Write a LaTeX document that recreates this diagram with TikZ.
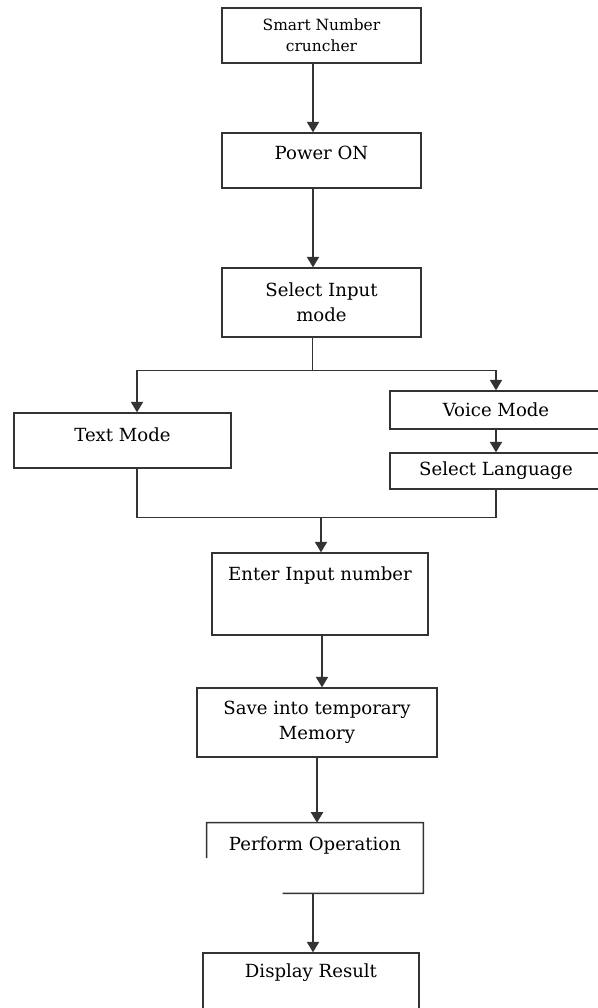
\documentclass[tikz,border=0pt]{standalone}
\usepackage{fontspec}
\setmainfont{DejaVu Serif}
\usetikzlibrary{arrows.meta,calc,positioning}

\begin{document}
\begin{tikzpicture}[x=0.02cm, y=-0.02cm, >={Triangle[width=7pt,length=6pt]},
    font=\fontsize{10.3}{14}\selectfont,
    box/.style={draw=black!80, line width=0.8pt, inner sep=0pt, align=center},
    link/.style={draw=black!80, line width=0.8pt}]
    \useasboundingbox (0,0) rectangle (598,1008);

    % main column
    \node[box, minimum width=3.98cm, minimum height=1.1cm, font=\fontsize{8.8}{12}\selectfont] (smart) at (321.5,35.5) {Smart Number\\cruncher};
    \node[box, minimum width=3.98cm, minimum height=1.1cm] (power) at (321.5,160.5) {};
    \node (powertxt) at ([yshift=-0.42cm]power.north) {Power ON};
    \node[box, minimum width=3.98cm, minimum height=1.38cm] (select) at (321.5,302.5) {Select Input\\mode};

    % the two input branches
    \node[box, minimum width=4.34cm, minimum height=1.1cm] (textm) at (122.5,440.5) {};
    \node (textmtxt) at ([yshift=-0.44cm]textm.north) {Text Mode};
    \node[box, minimum width=4.24cm, minimum height=0.76cm] (voice) at (496,410) {Voice Mode};
    \node[box, minimum width=4.24cm, minimum height=0.72cm] (lang) at (496,471) {Select Language};

    \node[box, minimum width=4.32cm, minimum height=1.64cm] (enter) at (320,594) {};
    \node (entertxt) at ([yshift=-0.46cm]enter.north) {Enter Input number};
    \node[box, minimum width=4.8cm, minimum height=1.38cm] (save) at (317,722.5) {Save into temporary\\Memory};

    % box left open on one side
    \node[inner sep=0pt, minimum width=4.32cm, minimum height=1.4cm] (perform) at (315,858) {};
    \node (performtxt) at ([yshift=-0.46cm]perform.north) {Perform Operation};
    \draw[link] ($(perform.north west)!0.5!(perform.south west)$) -- (perform.north west)
        -- (perform.north east) -- (perform.south east) -- ($(perform.south west)!0.35!(perform.south east)$);

    \node[box, minimum width=4.32cm, minimum height=1.54cm] (display) at (311,991.5) {};
    \node (displaytxt) at ([yshift=-0.4cm]display.north) {Display Result};

    % arrows
    \draw[link, ->] ([xshift=-0.17cm]smart.south) -- ([xshift=-0.17cm]power.north);
    \draw[link, ->] ([xshift=-0.17cm]power.south) -- ([xshift=-0.17cm]select.north);
    \draw[link] ([xshift=-0.18cm]select.south) -- ++(0,33) coordinate (split);
    \draw[link, ->] (split) -| ([xshift=0.29cm]textm.north);
    \draw[link, ->] (split) -| (voice.north);
    \draw[link, ->] (voice) -- (lang);

    \coordinate (join) at ($(enter.north)+(1,-35)$);
    \draw[link] ([xshift=0.29cm]textm.south) |- (join) -| (lang.south);
    \draw[link, ->] (join) -- (join |- enter.north);
    \draw[link, ->] ([xshift=0.04cm]enter.south) -- ([xshift=0.04cm]enter.south |- save.north);
    \draw[link, ->] (save.south) -- (save.south |- perform.north);
    \draw[link, ->] ([xshift=-0.04cm]perform.south) -- ([xshift=-0.04cm]perform.south |- display.north);
\end{tikzpicture}
\end{document}
